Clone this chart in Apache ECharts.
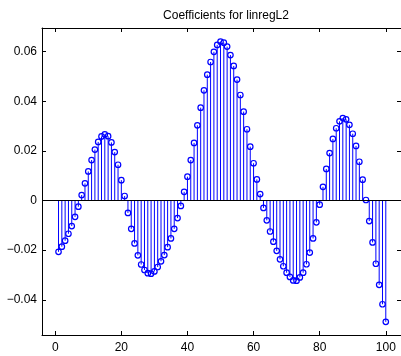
<!DOCTYPE html>
<html>
<head>
<meta charset="utf-8">
<script src="https://cdn.jsdelivr.net/npm/echarts@6/dist/echarts.min.js"></script>
<style>
  html, body { margin: 0; padding: 0; background: #fff; }
  #chart { width: 401px; height: 356px; }
</style>
</head>
<body>
<div id="chart"></div>
<script>
// Regression coefficients, one per feature index (1..100)
const coefficients = [
  -0.0207, -0.0186, -0.0162, -0.0134, -0.0103, -0.0066, -0.0025, 0.0022, 0.0069, 0.0117,
   0.0163,  0.0205,  0.0236,  0.0258,  0.0266,  0.0259,  0.0234, 0.0195, 0.0144, 0.0082,
   0.0018, -0.0050, -0.0114, -0.0173, -0.0221, -0.0258, -0.0280, -0.0293, -0.0295, -0.0286,
  -0.0268, -0.0245, -0.0220, -0.0188, -0.0153, -0.0114, -0.0071, -0.0022, 0.0035, 0.0096,
   0.0163,  0.0232,  0.0303,  0.0374,  0.0444,  0.0507,  0.0558, 0.0599, 0.0627, 0.0640,
   0.0636,  0.0620,  0.0586,  0.0542,  0.0487,  0.0425,  0.0358, 0.0287, 0.0217, 0.0150,
   0.0085,  0.0026, -0.0030, -0.0080, -0.0125, -0.0166, -0.0203, -0.0237, -0.0265, -0.0291,
  -0.0308, -0.0322, -0.0323, -0.0310, -0.0291, -0.0257, -0.0210, -0.0153, -0.0088, -0.0017,
   0.0055,  0.0127,  0.0191,  0.0248,  0.0291,  0.0319,  0.0332, 0.0327, 0.0305, 0.0269,
   0.0220,  0.0156,  0.0084,  0.0002, -0.0083, -0.0169, -0.0255, -0.0340, -0.0418, -0.0489
];

// Tick positions for both axes
const xTicks = [0, 20, 40, 60, 80, 100];
const yTicks = [-0.04, -0.02, 0, 0.02, 0.04, 0.06];

const titleText = 'Coefficients for linregL2';

const points = coefficients.map((v, i) => [i + 1, v]);

const FONT = '"Liberation Sans", Arial, Helvetica, sans-serif';
const BLUE = '#0000ff';

const fmtY = v => (v < 0 ? '\u2212' + Math.abs(v) : String(v));

const axisLine = { show: true, onZero: false, lineStyle: { color: '#000', width: 1 } };
const tickStyle = (vals) => ({ show: true, inside: true, length: 4, customValues: vals, lineStyle: { color: '#000', width: 1 } });

const chart = echarts.init(document.getElementById('chart'), null, { renderer: 'canvas' });

chart.setOption({
  animation: false,
  backgroundColor: '#fff',
  title: {
    text: titleText,
    left: 221, top: 5, textAlign: 'center',
    textStyle: { fontFamily: FONT, fontSize: 12, fontWeight: 'normal', color: '#000' }
  },
  grid: { left: 42, top: 28, width: 360, height: 307 },
  xAxis: [
    {
      type: 'value', min: -4, max: 104.6, position: 'bottom',
      axisLine, splitLine: { show: false },
      axisTick: tickStyle(xTicks),
      axisLabel: { customValues: xTicks, margin: 7, color: '#000', fontFamily: FONT, fontSize: 12 }
    },
    {
      type: 'value', min: -4, max: 104.6, position: 'top',
      axisLine, splitLine: { show: false },
      axisTick: tickStyle(xTicks),
      axisLabel: { show: false }
    }
  ],
  yAxis: [
    {
      type: 'value', min: -0.0542, max: 0.0695, position: 'left',
      axisLine, splitLine: { show: false },
      axisTick: tickStyle(yTicks),
      axisLabel: { customValues: yTicks, margin: 5, color: '#000', fontFamily: FONT, fontSize: 12, formatter: fmtY }
    },
    {
      type: 'value', min: -0.0542, max: 0.0695, position: 'right',
      axisLine, splitLine: { show: false },
      axisTick: tickStyle(yTicks),
      axisLabel: { show: false }
    }
  ],
  series: [
    {
      // stems from the baseline to each coefficient
      type: 'custom',
      xAxisIndex: 0, yAxisIndex: 0,
      data: points,
      renderItem: (params, api) => {
        const top = api.coord([api.value(0), api.value(1)]);
        const base = api.coord([api.value(0), 0]);
        return {
          type: 'line',
          shape: { x1: base[0], y1: base[1], x2: top[0], y2: top[1] },
          style: { stroke: BLUE, lineWidth: 1 }
        };
      },
      markLine: {
        silent: true, symbol: 'none', label: { show: false },
        lineStyle: { color: '#000', width: 1, type: 'solid' },
        data: [{ yAxis: 0 }]
      },
      z: 2
    },
    {
      // open circle markers at the tip of each stem
      type: 'scatter',
      xAxisIndex: 0, yAxisIndex: 0,
      data: points,
      symbol: 'circle', symbolSize: 5.5,
      itemStyle: { color: 'rgba(0,0,0,0)', borderColor: BLUE, borderWidth: 1.2, opacity: 1 },
      z: 3
    }
  ]
});
</script>
</body>
</html>
